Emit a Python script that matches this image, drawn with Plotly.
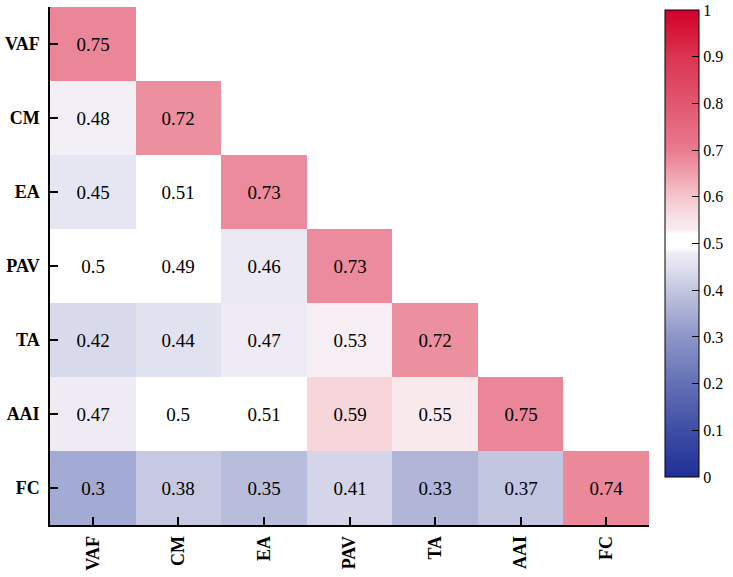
import plotly.graph_objects as go

labels = ["VAF", "CM", "EA", "PAV", "TA", "AAI", "FC"]

row_VAF = [0.75, None, None, None, None, None, None]
row_CM = [0.48, 0.72, None, None, None, None, None]
row_EA = [0.45, 0.51, 0.73, None, None, None, None]
row_PAV = [0.5, 0.49, 0.46, 0.73, None, None, None]
row_TA = [0.42, 0.44, 0.47, 0.53, 0.72, None, None]
row_AAI = [0.47, 0.5, 0.51, 0.59, 0.55, 0.75, None]
row_FC = [0.3, 0.38, 0.35, 0.41, 0.33, 0.37, 0.74]

z = [row_VAF, row_CM, row_EA, row_PAV, row_TA, row_AAI, row_FC]
text = [["" if v is None else f"{v:g}" for v in row] for row in z]

colorscale = [
    [0.0, "#1f2f96"],
    [0.1, "#3e4ea5"],
    [0.2, "#6470b6"],
    [0.3, "#8d95c8"],
    [0.4, "#c4c6e0"],
    [0.45, "#e0e0f0"],
    [0.48, "#f0ebf5"],
    [0.49, "#ffffff"],
    [0.52, "#ffffff"],
    [0.53, "#f6ecf1"],
    [0.55, "#f7e4e8"],
    [0.6, "#f5c6cc"],
    [0.7, "#ea7a8e"],
    [0.8, "#e2566f"],
    [0.9, "#db3450"],
    [1.0, "#d40029"],
]

font_family = "Liberation Serif, Times New Roman, serif"

fig = go.Figure(
    go.Heatmap(
        z=z,
        x=labels,
        y=labels,
        text=text,
        texttemplate="%{text}",
        textfont=dict(family=font_family, size=19, color="black"),
        colorscale=colorscale,
        zmin=0,
        zmax=1,
        opacity=0.8,
        hoverongaps=False,
        colorbar=dict(
            x=1.027,
            xanchor="left",
            xpad=0,
            y=1,
            yanchor="top",
            ypad=3,
            lenmode="pixels",
            len=473,
            thickness=34,
            outlinecolor="black",
            outlinewidth=1,
            tickvals=[0, 0.1, 0.2, 0.3, 0.4, 0.5, 0.6, 0.7, 0.8, 0.9, 0.9999],
            ticktext=["0", "0.1", "0.2", "0.3", "0.4", "0.5", "0.6", "0.7", "0.8", "0.9", "1"],
            ticks="inside",
            ticklen=7,
            tickwidth=1,
            tickcolor="black",
            tickfont=dict(family=font_family, size=16, color="black"),
        ),
    )
)

fig.update_xaxes(
    showline=True,
    linecolor="black",
    linewidth=1.5,
    ticks="inside",
    ticklen=8,
    tickwidth=1.5,
    tickcolor="black",
    tickangle=-90,
    ticklabelstandoff=2,
    tickfont=dict(family=font_family, size=18, color="black", weight="bold"),
    showgrid=False,
    zeroline=False,
)
fig.update_yaxes(
    autorange="reversed",
    showline=True,
    linecolor="black",
    linewidth=1.5,
    ticks="inside",
    ticklen=8,
    tickwidth=1.5,
    tickcolor="black",
    ticklabelstandoff=5,
    tickfont=dict(family=font_family, size=18, color="black", weight="bold"),
    showgrid=False,
    zeroline=False,
)

fig.update_layout(
    width=733,
    height=577,
    margin=dict(l=50, r=84, t=7, b=52, autoexpand=False),
    plot_bgcolor="white",
    paper_bgcolor="white",
    font=dict(family=font_family),
)

fig.write_html("out.html")
